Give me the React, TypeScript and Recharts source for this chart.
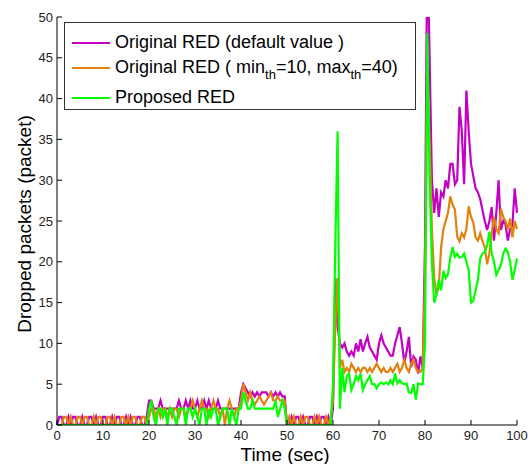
import React from 'react';
import { LineChart, Line, XAxis, YAxis, Legend } from 'recharts';

// samples every 0.5 s, t = 0 .. 100
const STEP = 0.5;

const origRed = [
  0, 1, 1, 0, 0, 1, 0, 1, 1, 0, 0, 1, 0, 0, 1, 1, 0, 1, 0, 0,
  1, 1, 0, 0, 1, 0, 1, 1, 0, 0, 1, 0, 1, 0, 0, 1, 1, 0, 0, 1,
  3, 3, 2, 2, 2, 3, 2, 2, 2, 2, 2, 2, 2, 3, 2, 2, 3, 2, 3, 2,
  2, 3, 2, 2, 3, 2, 3, 2, 2, 2, 3, 2, 2, 2, 2, 2, 2, 2, 2, 2,
  4, 5, 4.5, 4, 3.5, 4, 3.5, 4, 3.5, 4, 4, 4, 3.5, 4, 3.5, 4, 3.5, 4, 3.5, 3.5,
  0, 0, 1, 0, 1, 1, 0, 1, 0, 0, 1, 1, 0, 1, 0, 1, 1, 0, 1, 0,
  2, 18, 12, 10, 9.5, 10, 9, 8.5, 9, 8.5, 10, 9, 10.5, 9, 10, 10.8, 9.5, 9, 8.5, 8,
  10, 11, 10, 9.5, 9, 8.5, 8.5, 10, 11, 12, 10, 7.6, 9, 10.8, 7.1, 8.4, 8, 6.3, 8.4, 7,
  22, 60, 45, 30, 26, 29, 25.5, 28.5, 28, 30, 29, 32, 32, 29.5, 30, 39, 36, 29.5, 41, 36,
  32, 30.5, 29, 28.5, 27.7, 26.3, 25, 23.9, 25, 26.7, 22.6, 26, 30, 23.9, 25, 24.6, 22.6, 24, 24.4, 29,
  26,
];

const tunedRed = [
  0, 0, 0, 1, 1, 0, 1, 0, 0, 1, 1, 0, 1, 1, 0, 0, 1, 0, 1, 1,
  0, 0, 1, 1, 0, 1, 0, 0, 1, 1, 0, 1, 0, 1, 1, 0, 0, 1, 1, 0,
  1, 2, 2, 1, 2, 1, 2, 2, 1, 2, 1, 2, 2, 1, 2, 2, 1, 2, 2, 3,
  2, 1, 2, 3, 2, 2, 1, 2, 3, 2, 2, 1, 2, 0, 2, 3, 2, 1, 2, 2,
  3, 5, 4, 3, 4, 3, 2.5, 3, 3.5, 3, 2.5, 3, 3.5, 4, 3, 3, 3.5, 3, 3, 3,
  0, 1, 0, 1, 0, 0, 1, 0, 1, 1, 0, 0, 1, 0, 1, 0, 0, 1, 0, 1,
  3, 12, 18, 7, 8, 6.5, 7, 6.5, 7.5, 7, 6.5, 7, 6.5, 7, 7, 6.5, 7, 6.5, 7, 7.5,
  7, 6.5, 7, 6.5, 6.5, 7, 6.5, 7, 7.5, 6.5, 7, 8, 7, 6.5, 7.5, 8, 7, 6.5, 6.5, 7,
  18, 42, 35, 24, 18, 16, 17, 21.8, 24, 25, 26, 28, 27, 26.4, 23.1, 22.5, 23.5, 23, 24, 26.8,
  25.5, 24.8, 23, 22.6, 23.5, 22.5, 21.8, 19.7, 21, 23.5, 25.5, 24, 23.5, 26.5, 25.5, 25, 24, 25.3, 23, 25,
  24,
];

const proposedRed = [
  0, 0, 0, 0, 0, 0, 0, 0, 0, 0, 0, 0, 0, 0, 0, 0, 0, 0, 0, 0,
  0, 0, 0, 0, 0, 0, 0, 0, 0, 0, 0, 0, 0, 0, 0, 0, 0, 0, 0, 0,
  2, 3, 1, 0, 2, 2, 1, 2, 0, 2, 2, 1, 0, 2, 2, 2, 0, 2, 2, 1,
  2, 1, 0, 2, 2, 0, 2, 1, 2, 2, 0, 1, 2, 2, 2, 0, 2, 1, 0, 2,
  2, 4, 3, 2, 2, 3, 2, 2, 2, 2, 2, 2, 2, 2, 2, 3, 1, 2, 3, 2,
  0, 0, 0, 0, 0, 0, 0, 0, 0, 0, 0, 0, 0, 0, 0, 0, 0, 0, 0, 0,
  5, 22, 36, 2, 7, 4, 6, 6.3, 4.3, 5, 6, 5.5, 6.3, 4.3, 5, 5.5, 6, 5, 5, 4.5,
  5, 5.2, 5, 5.2, 5, 5.5, 5, 6.3, 5.1, 5.5, 5.1, 5, 5.1, 4, 3.9, 5, 3.1, 5.1, 5, 5,
  10, 48, 30, 20, 15, 16, 17.8, 16.5, 18.9, 18, 18.5, 20.5, 21.8, 20.6, 21, 20.5, 20.6, 21, 20, 19,
  15, 15.2, 16.5, 17.8, 20.4, 21, 21.2, 22, 23.7, 21, 20, 18.4, 19, 19.6, 21, 21.6, 21.2, 20, 17.8, 19,
  20.4,
];

const xTicks = [0, 10, 20, 30, 40, 50, 60, 70, 80, 90, 100];
const yTicks = [0, 5, 10, 15, 20, 25, 30, 35, 40, 45, 50];

const data = origRed.map((v, i) => ({
  t: i * STEP,
  orig: v,
  tuned: tunedRed[i],
  proposed: proposedRed[i],
}));

const FONT = '"Liberation Sans", Arial, sans-serif';
const MAGENTA = '#C400C4';
const ORANGE = '#E2820E';
const GREEN = '#00FF00';

const BottomTick = (props: any) => {
  const { x, y, payload } = props;
  return (
    <g>
      <line x1={x} x2={x} y1={y} y2={y - 5} stroke="#000" />
      <text x={x} y={y + 15} textAnchor="middle" fontSize={13} fontFamily={FONT} fill="#222">
        {payload.value}
      </text>
    </g>
  );
};

const LeftTick = (props: any) => {
  const { x, y, payload } = props;
  return (
    <g>
      <line x1={x} x2={x + 5} y1={y} y2={y} stroke="#000" />
      <text x={x - 4} y={y + 4.5} textAnchor="end" fontSize={13} fontFamily={FONT} fill="#222">
        {payload.value}
      </text>
    </g>
  );
};

const TopTick = (props: any) => (
  <line x1={props.x} x2={props.x} y1={props.y} y2={props.y + 5} stroke="#000" />
);

const RightTick = (props: any) => (
  <line x1={props.x} x2={props.x - 5} y1={props.y} y2={props.y} stroke="#000" />
);

const subStyle: React.CSSProperties = { fontSize: 13, verticalAlign: -6, lineHeight: 0 };

const legendRow = (color: string, label: React.ReactNode, extra?: React.CSSProperties) => (
  <div style={{ display: 'flex', alignItems: 'center', height: 25, ...extra }}>
    <div style={{ width: 38, height: 2, background: color, marginLeft: 7, marginRight: 5 }} />
    <span style={{ whiteSpace: 'nowrap' }}>{label}</span>
  </div>
);

const renderLegend = () => (
  <div
    style={{
      boxSizing: 'border-box',
      width: 352,
      height: 88,
      border: '1px solid #333',
      background: '#fff',
      paddingTop: 7,
      fontFamily: FONT,
      fontSize: 18,
      color: '#000',
      lineHeight: '25px',
    }}
  >
    {legendRow(MAGENTA, 'Original RED (default value )')}
    {legendRow(
      ORANGE,
      <>
        Original RED ( min<sub style={subStyle}>th</sub>=10, max<sub style={subStyle}>th</sub>=40)
      </>,
      { marginBottom: 5 }
    )}
    {legendRow(GREEN, 'Proposed RED')}
  </div>
);

const App: React.FC = () => {
  return (
    <div style={{ position: 'absolute', left: 0, top: 0, width: 529, height: 464, background: '#fff' }}>
      <LineChart width={529} height={464} data={data} margin={{ top: 17, right: 12, bottom: 0, left: 0 }}>
        <XAxis
          dataKey="t"
          type="number"
          domain={[0, 100]}
          ticks={xTicks}
          interval={0}
          height={39}
          tickSize={0}
          tickMargin={0}
          tickLine={false}
          tick={BottomTick}
          axisLine={{ stroke: '#000' }}
          label={{
            content: (p: any) => (
              <text
                x={p.viewBox.x + p.viewBox.width / 2 - 2}
                y={p.viewBox.y + 36}
                textAnchor="middle"
                fontSize={19}
                fontFamily={FONT}
                fill="#000"
              >
                Time (sec)
              </text>
            ),
          }}
        />
        <XAxis
          xAxisId="top"
          orientation="top"
          dataKey="t"
          type="number"
          domain={[0, 100]}
          ticks={xTicks}
          interval={0}
          height={0}
          tickSize={0}
          tickMargin={0}
          tickLine={false}
          tick={TopTick}
          axisLine={{ stroke: '#000' }}
        />
        <YAxis
          type="number"
          domain={[0, 50]}
          ticks={yTicks}
          interval={0}
          allowDataOverflow
          width={57}
          tickSize={0}
          tickMargin={0}
          tickLine={false}
          tick={LeftTick}
          axisLine={{ stroke: '#000' }}
          label={{
            content: (p: any) => {
              const cy = p.viewBox.y + p.viewBox.height / 2 + 3;
              return (
                <text
                  x={24}
                  y={cy}
                  transform={`rotate(-90, 24, ${cy})`}
                  textAnchor="middle"
                  dominantBaseline="central"
                  fontSize={19}
                  fontFamily={FONT}
                  fill="#000"
                >
                  Dropped packets (packet)
                </text>
              );
            },
          }}
        />
        <YAxis
          yAxisId="right"
          orientation="right"
          type="number"
          domain={[0, 50]}
          ticks={yTicks}
          interval={0}
          width={0}
          tickSize={0}
          tickMargin={0}
          tickLine={false}
          tick={RightTick}
          axisLine={{ stroke: '#000' }}
        />
        <Legend
          layout="horizontal"
          verticalAlign="middle"
          align="center"
          content={renderLegend}
          wrapperStyle={{ left: 64, top: 22, width: 352, height: 88 }}
        />
        <Line dataKey="orig" type="linear" stroke={MAGENTA} strokeWidth={2.2} dot={false} isAnimationActive={false} />
        <Line dataKey="tuned" type="linear" stroke={ORANGE} strokeWidth={2.2} dot={false} isAnimationActive={false} />
        <Line dataKey="proposed" type="linear" stroke={GREEN} strokeWidth={2.2} dot={false} isAnimationActive={false} />
      </LineChart>
    </div>
  );
};

export default App;
